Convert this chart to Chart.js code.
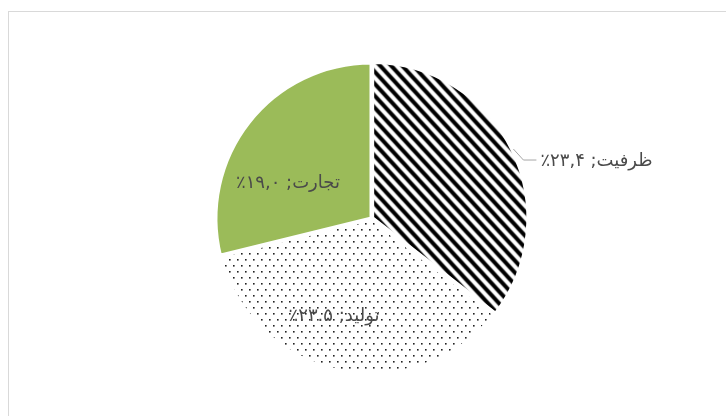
<!DOCTYPE html>
<html><head><meta charset="utf-8">
<script src="https://cdn.jsdelivr.net/npm/chart.js@4/dist/chart.umd.min.js"></script>
<style>
html,body{margin:0;padding:0;background:#fff;overflow:hidden;}
#wrap{position:relative;width:726px;height:416px;overflow:hidden;}
#frame{position:absolute;left:8px;top:11px;width:800px;height:500px;border-left:1px solid #d9d9d9;border-top:1px solid #d9d9d9;}
canvas{position:absolute;left:0;top:0;}
</style></head><body>
<div id="wrap"><div id="frame"></div><canvas id="c" width="726" height="416"></canvas></div>
<script>
// ---- data ----
const categories = ['ظرفیت', 'تولید', 'تجارت'];
const values = [23.4, 23.5, 19.0];
const valueLabels = ['۲۳,۴٪', '۲۳.۵٪', '۱۹,۰٪'];

// ---- fills ----
function stripePattern() {
  const w = 11, h = 12;
  const c = document.createElement('canvas'); c.width = w; c.height = h;
  const x = c.getContext('2d');
  x.fillStyle = '#fff'; x.fillRect(0, 0, w, h);
  x.strokeStyle = '#000'; x.lineWidth = 4;
  x.beginPath();
  for (let k = -2; k <= 2; k++) {
    x.moveTo(k * w - w, -h); x.lineTo(k * w + 2 * w, 2 * h);
  }
  x.stroke();
  return x.createPattern(c, 'repeat');
}
function dotPattern() {
  const c = document.createElement('canvas'); c.width = 8; c.height = 12;
  const x = c.getContext('2d');
  x.fillStyle = '#fff'; x.fillRect(0, 0, 8, 12);
  x.fillStyle = '#222';
  x.fillRect(1, 1, 1.6, 1.6);
  x.fillRect(5, 7, 1.6, 1.6);
  return x.createPattern(c, 'repeat');
}

const labelPlugin = {
  id: 'sliceLabels',
  afterDatasetsDraw(chart, args, opts) {
    const ctx = chart.ctx;
    const meta = chart.getDatasetMeta(0);
    ctx.save();
    ctx.font = opts.font;
    ctx.fillStyle = opts.color;
    ctx.direction = 'rtl';
    ctx.textBaseline = 'middle';
    meta.data.forEach((arc, i) => {
      const p = arc.getProps(['x', 'y', 'startAngle', 'endAngle', 'outerRadius'], true);
      const text = categories[i] + '; ' + valueLabels[i];
      const cfg = opts.place[i];
      const a = p.startAngle + (p.endAngle - p.startAngle) * cfg.angleFrac;
      if (cfg.inside) {
        const r = p.outerRadius * cfg.radiusFrac;
        ctx.textAlign = 'center';
        ctx.fillText(text, p.x + r * Math.cos(a), p.y + r * Math.sin(a));
      } else {
        const r = p.outerRadius + 2;
        const sx = p.x + r * Math.cos(a), sy = p.y + r * Math.sin(a);
        const ex = sx + 10, ey = sy + 11;
        ctx.strokeStyle = opts.lineColor; ctx.lineWidth = 1;
        ctx.beginPath();
        ctx.moveTo(sx, sy); ctx.lineTo(ex, ey); ctx.lineTo(ex + 13, ey);
        ctx.stroke();
        ctx.textAlign = 'left';
        ctx.fillText(text, ex + 17, ey + 1);
      }
    });
    ctx.restore();
  }
};

new Chart(document.getElementById('c'), {
  type: 'pie',
  data: {
    labels: categories,
    datasets: [{
      data: values,
      backgroundColor: [stripePattern(), dotPattern(), '#9BBB59'],
      borderColor: '#ffffff',
      borderWidth: 4,
      offset: [3, 0, 0],
      hoverOffset: 0
    }]
  },
  options: {
    responsive: false,
    animation: false,
    events: [],
    rotation: 0,
    layout: { padding: { left: 212, right: 195, top: 59, bottom: 38 } },
    plugins: {
      legend: { display: false },
      tooltip: { enabled: false },
      title: { display: false },
      sliceLabels: {
        font: '18px "DejaVu Sans"',
        color: '#4a4a4a',
        lineColor: '#a6a6a6',
        place: [
          { inside: false, angleFrac: 0.5 },
          { inside: true, angleFrac: 0.57, radiusFrac: 0.67 },
          { inside: true, angleFrac: 0.35, radiusFrac: 0.58 }
        ]
      }
    }
  },
  plugins: [labelPlugin]
});
</script>
</body></html>
